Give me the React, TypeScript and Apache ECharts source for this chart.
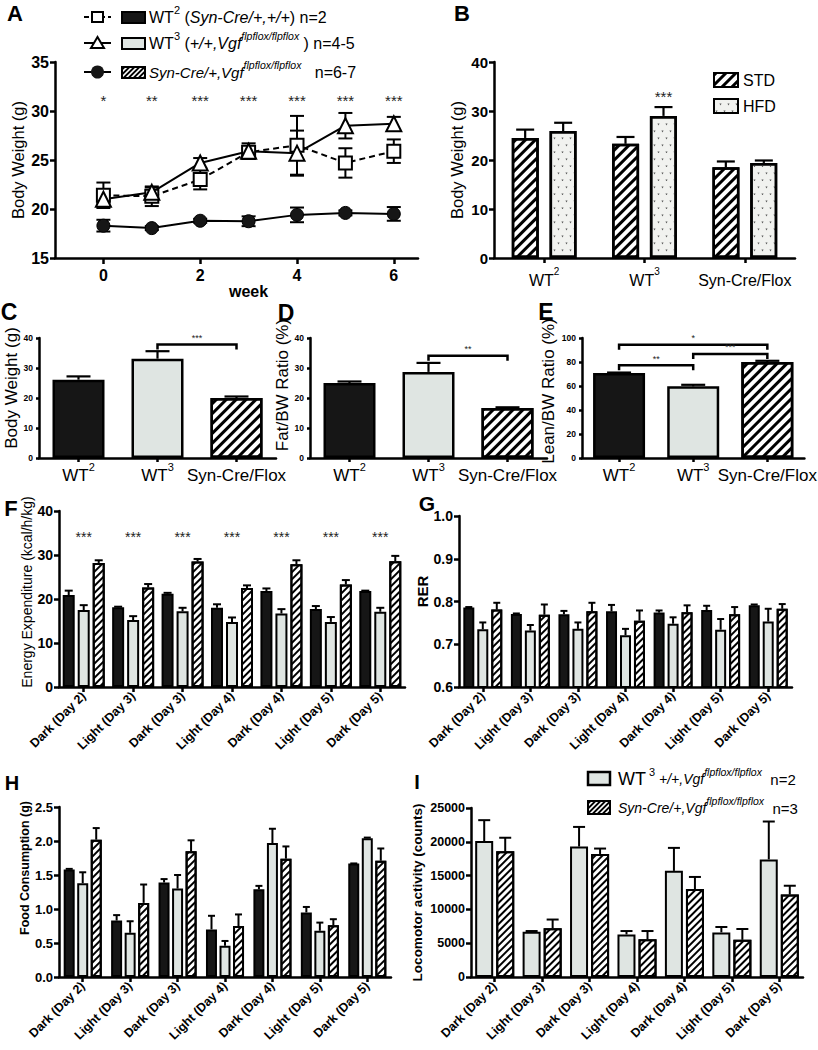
import React, { useEffect, useRef } from 'react';
import * as echarts from 'echarts';

const FONT = '"Liberation Sans", Arial, Helvetica, sans-serif';
const INK = '#000';
const DARK = '#161616';
const LIGHT = '#dfe5e2';
const HFDFILL = '#f1f2ef';

// ---------- Panel A: body weight by week ----------
const aWeeks = [0, 1, 2, 3, 4, 5, 6];
const aWeekTicks = [0, 2, 4, 6];
const aWT2 = [21.4, 21.3, 23.0, 25.8, 26.5, 24.7, 25.9];
const aWT2Err = [1.3, 1.0, 1.0, 0.4, 3.0, 1.5, 1.2];
const aWT3 = [21.0, 21.7, 24.7, 25.9, 25.7, 28.5, 28.7];
const aWT3Err = [0.4, 0.5, 0.5, 0.8, 2.3, 1.3, 0.7];
const aSyn = [18.3, 18.05, 18.8, 18.75, 19.4, 19.6, 19.5];
const aSynErr = [0.6, 0.2, 0.2, 0.5, 0.75, 0.25, 0.7];
const aStars = ['*', '**', '***', '***', '***', '***', '***'];
const aStarLevel = [31.1, 31.1, 31.1, 31.1, 31.1, 31.1, 31.1];

// ---------- Panel B: STD vs HFD ----------
const bCats = ['WT2', 'WT3', 'Syn-Cre/Flox'];
const bSTD = [24.5, 23.3, 18.5];
const bSTDErr = [1.7, 1.4, 1.2];
const bHFD = [25.9, 29.0, 19.4];
const bHFDErr = [1.7, 1.8, 0.5];
const bStarX = [1];
const bStarY = [32.9];
const bStarText = ['***'];

// ---------- Panels C, D, E ----------
const cdeCats = ['WT2', 'WT3', 'Syn-Cre/Flox'];
const cVals = [26.1, 33.1, 20.0];
const cErr = [1.1, 2.5, 0.5];
const cBrFrom = [1], cBrTo = [2], cBrY = [37.8], cBrText = ['***'];
const dVals = [25.0, 28.7, 16.7];
const dErr = [0.5, 3.0, 0.2];
const dBrFrom = [1], dBrTo = [2], dBrY = [34.1], dBrText = ['**'];
const eVals = [70.8, 59.7, 80.0];
const eErr = [0.4, 1.3, 1.0];
const eBrFrom = [0, 1, 0], eBrTo = [2, 2, 1], eBrY = [94.4, 86.7, 77.2], eBrText = ['*', '***', '**'];

// ---------- Panels F, G, H, I ----------
const periods = ['Dark (Day 2)', 'Light (Day 3)', 'Dark (Day 3)', 'Light (Day 4)', 'Dark (Day 4)', 'Light (Day 5)', 'Dark (Day 5)'];
const periodIdx = [0, 1, 2, 3, 4, 5, 6];

const fWT2 = [20.9, 18.1, 21.2, 18.0, 21.8, 17.7, 21.8];
const fWT2Err = [1.0, 0.15, 0.2, 0.8, 0.6, 0.7, 0.1];
const fWT3 = [17.5, 15.2, 17.2, 14.8, 16.7, 14.8, 17.1];
const fWT3Err = [1.1, 0.9, 0.8, 1.0, 1.0, 1.1, 0.9];
const fSyn = [28.2, 22.6, 28.5, 22.5, 27.9, 23.3, 28.6];
const fSynErr = [0.6, 0.8, 0.6, 0.6, 0.9, 1.0, 1.2];
const fStars = ['***', '***', '***', '***', '***', '***', '***'];
const fStarLevel = [34.2, 34.2, 34.2, 34.2, 34.2, 34.2, 34.2];

const gWT2 = [0.786, 0.771, 0.770, 0.777, 0.774, 0.780, 0.791];
const gWT2Err = [0.001, 0.001, 0.008, 0.015, 0.005, 0.010, 0.002];
const gWT3 = [0.735, 0.732, 0.736, 0.721, 0.748, 0.734, 0.753];
const gWT3Err = [0.016, 0.013, 0.015, 0.015, 0.015, 0.025, 0.030];
const gSyn = [0.781, 0.769, 0.777, 0.755, 0.775, 0.770, 0.783];
const gSynErr = [0.016, 0.024, 0.020, 0.024, 0.016, 0.017, 0.011];

const hWT2 = [1.58, 0.83, 1.39, 0.70, 1.29, 0.95, 1.67];
const hWT2Err = [0.01, 0.08, 0.05, 0.20, 0.05, 0.08, 0.0];
const hWT3 = [1.38, 0.65, 1.30, 0.46, 1.97, 0.68, 2.04];
const hWT3Err = [0.16, 0.17, 0.20, 0.07, 0.21, 0.12, 0.01];
const hSyn = [2.02, 1.09, 1.85, 0.75, 1.74, 0.76, 1.71];
const hSynErr = [0.17, 0.27, 0.16, 0.17, 0.18, 0.09, 0.18];

const iWT3 = [20100, 6700, 19300, 6300, 15700, 6600, 17400];
const iWT3Err = [3100, 100, 2900, 500, 3400, 800, 5600];
const iSyn = [18600, 7200, 18200, 5600, 13000, 5500, 12200];
const iSynErr = [2000, 1300, 800, 1200, 1800, 1600, 1300];

// ---------- styles ----------
const stripeThin = { symbol: 'rect', symbolSize: 1, color: '#000', dashArrayX: [1, 0], dashArrayY: [2, 2.5], rotation: -Math.PI / 4 };
const stripeWide = { symbol: 'rect', symbolSize: 1, color: '#000', dashArrayX: [1, 0], dashArrayY: [2.5, 3.5], rotation: -Math.PI / 4 };
const dotDecal = { symbol: 'triangle', symbolSize: 0.7, color: '#555', dashArrayX: [[3, 5], [0, 4, 3, 1]], dashArrayY: [3, 4], rotation: Math.PI };

const sBlack = (bw: number) => ({ color: DARK, borderColor: INK, borderWidth: bw });
const sLight = (bw: number) => ({ color: LIGHT, borderColor: INK, borderWidth: bw });
const sHatch = (bw: number, decal: any) => ({ color: '#fff', borderColor: INK, borderWidth: bw, decal });

const axisLine = (w = 2.5) => ({ show: true, onZero: false, lineStyle: { color: INK, width: w } });
const axisTick = (len = 5, w = 2.5, extra: any = {}) => ({ show: true, length: len, lineStyle: { color: INK, width: w }, ...extra });

const supFmt = (v: string) => {
  const m = /^WT(\d)$/.exec(v);
  return m ? `{a|WT}{s|${m[1]}}` : `{a|${v}}`;
};
const supRich = (fs: number) => ({
  a: { fontSize: fs, color: INK, fontFamily: FONT, lineHeight: 28, verticalAlign: 'middle' },
  s: { fontSize: Math.round(fs * 0.65), color: INK, fontFamily: FONT, lineHeight: 12, verticalAlign: 'top' },
});

function valueY(gi: number, min: number, max: number, interval: number, fontSize: number, name: string, nameStyle: any, nameGap: number, fmt?: any, tickLen = 5, lw = 2.5) {
  return {
    gridIndex: gi, type: 'value', min, max, interval,
    axisLine: axisLine(lw), axisTick: axisTick(tickLen, lw), splitLine: { show: false },
    axisLabel: { fontSize, fontWeight: 'bold', color: INK, margin: 6, fontFamily: FONT, formatter: fmt },
    name, nameLocation: 'middle', nameGap, nameRotate: 90,
    nameTextStyle: { color: INK, fontFamily: FONT, ...nameStyle },
  };
}

function catX(gi: number, data: string[], label: any, tickLen = 5) {
  return {
    gridIndex: gi, type: 'category', data, boundaryGap: true,
    axisLine: axisLine(), axisTick: axisTick(tickLen, 2.5, { alignWithLabel: true }),
    axisLabel: { interval: 0, color: INK, fontFamily: FONT, ...label }, splitLine: { show: false },
  };
}

function bar(gi: number, name: string, data: any[], barWidth: number, barGap: string, itemStyle: any) {
  return { type: 'bar', name, xAxisIndex: gi, yAxisIndex: gi, data, barWidth, barGap, itemStyle, silent: true, z: 2 };
}

function errSeries(gi: number, vals: number[], errs: number[], offset: number, capW: number, lw: number, both: boolean, xs?: number[], z = 4) {
  return {
    type: 'custom', xAxisIndex: gi, yAxisIndex: gi, silent: true, z,
    encode: { x: 0, y: 1 },
    data: vals.map((v, i) => [xs ? xs[i] : i, v, errs[i]]),
    renderItem: (_p: any, api: any) => {
      const x = api.value(0), v = api.value(1), e = api.value(2);
      const c = api.coord([x, v]);
      const t = api.coord([x, v + e]);
      const cx = c[0] + offset;
      const st = { stroke: INK, lineWidth: lw };
      const ch: any[] = [
        { type: 'line', shape: { x1: cx, y1: c[1], x2: cx, y2: t[1] }, style: st },
        { type: 'line', shape: { x1: cx - capW / 2, y1: t[1], x2: cx + capW / 2, y2: t[1] }, style: st },
      ];
      if (both) {
        const b = api.coord([x, v - e]);
        ch.push({ type: 'line', shape: { x1: cx, y1: c[1], x2: cx, y2: b[1] }, style: st });
        ch.push({ type: 'line', shape: { x1: cx - capW / 2, y1: b[1], x2: cx + capW / 2, y2: b[1] }, style: st });
      }
      return { type: 'group', children: ch };
    },
  };
}

function textSeries(gi: number, xs: number[], ys: number[], texts: string[], fontSize: number, dx = 0) {
  return {
    type: 'custom', xAxisIndex: gi, yAxisIndex: gi, silent: true, z: 5,
    encode: { x: 0, y: 1 },
    data: xs.map((x, i) => [x, ys[i]]),
    renderItem: (p: any, api: any) => {
      const c = api.coord([api.value(0), api.value(1)]);
      return {
        type: 'text', x: c[0] + dx, y: c[1],
        style: { text: texts[p.dataIndex], fontSize, fontFamily: FONT, fill: '#222', align: 'center', verticalAlign: 'middle', textAlign: 'center', textVerticalAlign: 'middle' },
      };
    },
  };
}

function bracketSeries(gi: number, from: number[], to: number[], ys: number[], texts: string[]) {
  return {
    type: 'custom', xAxisIndex: gi, yAxisIndex: gi, silent: true, z: 5,
    encode: { x: [0, 1], y: 2 },
    data: from.map((f, i) => [f, to[i], ys[i]]),
    renderItem: (p: any, api: any) => {
      const a = api.coord([api.value(0), api.value(2)]);
      const b = api.coord([api.value(1), api.value(2)]);
      return {
        type: 'group',
        children: [
          { type: 'polyline', shape: { points: [[a[0], a[1] + 5], [a[0], a[1]], [b[0], b[1]], [b[0], b[1] + 5]] }, style: { stroke: INK, lineWidth: 2.5, fill: null } },
          { type: 'text', x: (a[0] + b[0]) / 2, y: a[1] - 2, style: { text: texts[p.dataIndex], fontSize: 9, fontFamily: FONT, fill: '#222', align: 'center', verticalAlign: 'bottom', textAlign: 'center', textVerticalAlign: 'bottom' } },
        ],
      };
    },
  };
}

function hatchBox(x: number, y: number, w: number, h: number, step: number) {
  const out: any[] = [{ type: 'rect', shape: { x, y, width: w, height: h }, style: { fill: '#fff', stroke: INK, lineWidth: 2 } }];
  for (let k = -h + step / 2; k < w; k += step) {
    let x1 = x + k, y1 = y + h, x2 = x + k + h, y2 = y;
    if (x1 < x) { y1 -= x - x1; x1 = x; }
    if (x2 > x + w) { y2 += x2 - (x + w); x2 = x + w; }
    out.push({ type: 'line', shape: { x1, y1, x2, y2 }, style: { stroke: INK, lineWidth: 1.8 } });
  }
  return out;
}

function letter(t: string, x: number, y: number, fs: number) {
  return { type: 'text', x, y, style: { text: t, fontSize: fs, fontWeight: 'bold', fontFamily: FONT, fill: INK, align: 'center', verticalAlign: 'middle', textAlign: 'center', textVerticalAlign: 'middle' } };
}

function richText(x: number, y: number, text: string, rich: any) {
  return { type: 'text', x, y, style: { text, rich, fontFamily: FONT, fill: INK, align: 'left', verticalAlign: 'middle', textAlign: 'left', textVerticalAlign: 'middle' } };
}

function buildOption() {
  const grid = [
    { left: 55, top: 62, width: 363, height: 196 },   // A
    { left: 494, top: 62, width: 301, height: 196 },  // B
    { left: 39, top: 338, width: 237, height: 120 },  // C
    { left: 310, top: 338, width: 237, height: 120 }, // D
    { left: 582, top: 338, width: 234, height: 120 }, // E
    { left: 59, top: 511, width: 346, height: 176 },  // F
    { left: 459, top: 516, width: 333, height: 171 }, // G
    { left: 59, top: 807, width: 332, height: 170 },  // H
    { left: 471, top: 808, width: 332, height: 169 }, // I
  ];

  const rotLabel = { rotate: 45, fontSize: 12.5, fontWeight: 'bold', margin: 7 };

  const xAxis: any[] = [
    {
      gridIndex: 0, type: 'value', min: -1, max: 6.5,
      axisLine: axisLine(2.5), axisTick: axisTick(6, 2.5, { customValues: aWeekTicks }), splitLine: { show: false },
      axisLabel: { customValues: aWeekTicks, fontSize: 16, fontWeight: 'bold', color: INK, margin: 9, fontFamily: FONT },
      name: 'week', nameLocation: 'middle', nameGap: 23,
      nameTextStyle: { fontSize: 16, fontWeight: 'bold', color: INK, fontFamily: FONT, padding: [0, 0, 0, 24] },
    },
    catX(1, bCats, { formatter: supFmt, rich: supRich(16), margin: 8 }),
    catX(2, cdeCats, { formatter: supFmt, rich: supRich(17), margin: 3 }, 4),
    catX(3, cdeCats, { formatter: supFmt, rich: supRich(17), margin: 3 }, 4),
    catX(4, cdeCats, { formatter: supFmt, rich: supRich(17), margin: 3 }, 4),
    catX(5, periods, rotLabel),
    catX(6, periods, rotLabel),
    catX(7, periods, rotLabel),
    catX(8, periods, rotLabel),
  ];

  const yAxis: any[] = [
    valueY(0, 15, 35, 5, 16, 'Body Weight (g)', { fontSize: 16.5 }, 29),
    valueY(1, 0, 40, 10, 15, 'Body Weight (g)', { fontSize: 16.5 }, 29),
    valueY(2, 0, 40, 10, 8.5, 'Body Weight (g)', { fontSize: 17, padding: [0, 0, 0, 20] }, 17, undefined, 3),
    valueY(3, 0, 40, 10, 8.5, 'Fat/BW Ratio (%)', { fontSize: 17, padding: [0, 0, 0, 26] }, 12, undefined, 3),
    valueY(4, 0, 100, 20, 8.5, 'Lean/BW Ratio (%)', { fontSize: 17, padding: [0, 0, 0, 14] }, 25, undefined, 3),
    valueY(5, 0, 40, 10, 14, 'Energy Expenditure (kcal/h/kg)', { fontSize: 14, padding: [0, 0, 0, 14] }, 20),
    valueY(6, 0.6, 1.0, 0.1, 14, 'RER', { fontSize: 15, fontWeight: 'bold', padding: [0, 0, 0, 20] }, 23, (v: number) => v.toFixed(1)),
    valueY(7, 0, 2.5, 0.5, 13, 'Food Consumption (g)', { fontSize: 12.5, fontWeight: 'bold', padding: [0, 0, 0, 48] }, 28, (v: number) => v.toFixed(1)),
    valueY(8, 0, 25000, 5000, 12.5, 'Locomotor activity (counts)', { fontSize: 13.5, fontWeight: 'bold' }, 47, (v: number) => String(v)),
  ];

  const lineCommon = { silent: true, xAxisIndex: 0, yAxisIndex: 0, z: 6, showSymbol: true };
  const series: any[] = [
    // A
    errSeries(0, aWT2, aWT2Err, 0, 14, 2, true, aWeeks, 3),
    errSeries(0, aWT3, aWT3Err, 0, 14, 2, true, aWeeks, 3),
    errSeries(0, aSyn, aSynErr, 0, 14, 2, true, aWeeks, 3),
    { ...lineCommon, type: 'line', name: 'A WT2', data: aWeeks.map((w, i) => [w, aWT2[i]]), symbol: 'rect', symbolSize: 13, lineStyle: { color: INK, width: 2, type: [6, 4] }, itemStyle: { color: '#fff', borderColor: INK, borderWidth: 2 } },
    { ...lineCommon, type: 'line', name: 'A WT3', data: aWeeks.map((w, i) => [w, aWT3[i]]), symbol: 'triangle', symbolSize: 15, lineStyle: { color: INK, width: 2 }, itemStyle: { color: '#fff', borderColor: INK, borderWidth: 2 } },
    { ...lineCommon, type: 'line', name: 'A Syn', data: aWeeks.map((w, i) => [w, aSyn[i]]), symbol: 'circle', symbolSize: 13, lineStyle: { color: INK, width: 2 }, itemStyle: { color: DARK, borderColor: INK, borderWidth: 1 } },
    textSeries(0, aWeeks, aStarLevel, aStars, 15),

    // B
    bar(1, 'STD', bSTD, 27, '40%', sHatch(2.5, stripeWide)),
    bar(1, 'HFD', bHFD, 27, '40%', { color: HFDFILL, borderColor: INK, borderWidth: 2.5, decal: dotDecal }),
    errSeries(1, bSTD, bSTDErr, -19, 18, 2.2, false),
    errSeries(1, bHFD, bHFDErr, 19, 18, 2.2, false),
    textSeries(1, bStarX, bStarY, bStarText, 15, 19),

    // C
    bar(2, 'C', cVals.map((v, i) => ({ value: v, itemStyle: [sBlack(2.5), sLight(2.5), sHatch(2.5, stripeWide)][i] })), 52, '0%', {}),
    errSeries(2, cVals, cErr, 0, 24, 2.2, false),
    bracketSeries(2, cBrFrom, cBrTo, cBrY, cBrText),
    // D
    bar(3, 'D', dVals.map((v, i) => ({ value: v, itemStyle: [sBlack(2.5), sLight(2.5), sHatch(2.5, stripeWide)][i] })), 52, '0%', {}),
    errSeries(3, dVals, dErr, 0, 24, 2.2, false),
    bracketSeries(3, dBrFrom, dBrTo, dBrY, dBrText),
    // E
    bar(4, 'E', eVals.map((v, i) => ({ value: v, itemStyle: [sBlack(2.5), sLight(2.5), sHatch(2.5, stripeWide)][i] })), 52, '0%', {}),
    errSeries(4, eVals, eErr, 0, 24, 2.2, false),
    bracketSeries(4, eBrFrom, eBrTo, eBrY, eBrText),

    // F
    bar(5, 'F WT2', fWT2, 12, '25%', sBlack(2)),
    bar(5, 'F WT3', fWT3, 12, '25%', sLight(2)),
    bar(5, 'F Syn', fSyn, 12, '25%', sHatch(2, stripeThin)),
    errSeries(5, fWT2, fWT2Err, -15, 8, 2, false),
    errSeries(5, fWT3, fWT3Err, 0, 8, 2, false),
    errSeries(5, fSyn, fSynErr, 15, 8, 2, false),
    textSeries(5, periodIdx, fStarLevel, fStars, 14),

    // G
    bar(6, 'G WT2', gWT2, 11, '27%', sBlack(2)),
    bar(6, 'G WT3', gWT3, 11, '27%', sLight(2)),
    bar(6, 'G Syn', gSyn, 11, '27%', sHatch(2, stripeThin)),
    errSeries(6, gWT2, gWT2Err, -14, 7, 2, false),
    errSeries(6, gWT3, gWT3Err, 0, 7, 2, false),
    errSeries(6, gSyn, gSynErr, 14, 7, 2, false),

    // H
    bar(7, 'H WT2', hWT2, 11, '23%', sBlack(2)),
    bar(7, 'H WT3', hWT3, 11, '23%', sLight(2)),
    bar(7, 'H Syn', hSyn, 11, '23%', sHatch(2, stripeThin)),
    errSeries(7, hWT2, hWT2Err, -13.5, 7, 2, false),
    errSeries(7, hWT3, hWT3Err, 0, 7, 2, false),
    errSeries(7, hSyn, hSynErr, 13.5, 7, 2, false),

    // I
    bar(8, 'I WT3', iWT3, 18, '17%', sLight(2)),
    bar(8, 'I Syn', iSyn, 18, '17%', sHatch(2, stripeThin)),
    errSeries(8, iWT3, iWT3Err, -10.5, 12, 2, false),
    errSeries(8, iSyn, iSynErr, 10.5, 12, 2, false),
  ];

  const richA = {
    t: { fontSize: 16, fill: INK, fontFamily: FONT, lineHeight: 26, verticalAlign: 'middle' },
    i: { fontSize: 16, fill: INK, fontFamily: FONT, fontStyle: 'italic', lineHeight: 26, verticalAlign: 'middle' },
    i3: { fontSize: 15, fill: INK, fontFamily: FONT, fontStyle: 'italic', lineHeight: 26, verticalAlign: 'middle' },
    s: { fontSize: 11, fill: INK, fontFamily: FONT, lineHeight: 11, verticalAlign: 'top' },
    s2: { fontSize: 10.5, fill: INK, fontFamily: FONT, fontStyle: 'italic', lineHeight: 11, verticalAlign: 'top' },
  };
  const richI = {
    t: { fontSize: 18, fill: INK, fontFamily: FONT, lineHeight: 26, verticalAlign: 'middle' },
    i: { fontSize: 14, fill: INK, fontFamily: FONT, fontStyle: 'italic', lineHeight: 26, verticalAlign: 'middle' },
    n: { fontSize: 15, fill: INK, fontFamily: FONT, lineHeight: 26, verticalAlign: 'middle' },
    s: { fontSize: 11, fill: INK, fontFamily: FONT, lineHeight: 11, verticalAlign: 'top' },
    s2: { fontSize: 10.5, fill: INK, fontFamily: FONT, fontStyle: 'italic', lineHeight: 11, verticalAlign: 'top' },
  };

  const graphic: any[] = [
    letter('A', 15, 13, 22), letter('B', 462, 13, 22), letter('C', 9, 312, 23), letter('D', 286, 313, 23), letter('E', 546, 312, 23),
    letter('F', 11, 508, 22), letter('G', 427, 503, 21), letter('H', 12, 783, 20), letter('I', 417, 782, 20),
    // legend A
    { type: 'line', shape: { x1: 84, y1: 17, x2: 111, y2: 17 }, style: { stroke: INK, lineWidth: 2, lineDash: [5, 3] } },
    { type: 'rect', shape: { x: 92, y: 12, width: 11, height: 10 }, style: { fill: '#fff', stroke: INK, lineWidth: 2 } },
    { type: 'line', shape: { x1: 84, y1: 43, x2: 111, y2: 43 }, style: { stroke: INK, lineWidth: 2 } },
    { type: 'polygon', shape: { points: [[97.5, 37], [91, 48], [104, 48]] }, style: { fill: '#fff', stroke: INK, lineWidth: 2 } },
    { type: 'line', shape: { x1: 84, y1: 72, x2: 111, y2: 72 }, style: { stroke: INK, lineWidth: 2 } },
    { type: 'circle', shape: { cx: 97.5, cy: 72, r: 6.5 }, style: { fill: DARK } },
    { type: 'rect', shape: { x: 122, y: 12, width: 23, height: 11 }, style: { fill: DARK, stroke: INK, lineWidth: 2 } },
    { type: 'rect', shape: { x: 122, y: 38, width: 23, height: 11 }, style: { fill: LIGHT, stroke: INK, lineWidth: 2 } },
    ...hatchBox(122, 67, 23, 11, 5),
    richText(149, 17, '{t|WT}{s|2}{t| (}{i|Syn-Cre/+,+/+}{t|) n=2}', richA),
    richText(149, 43, '{t|WT}{s|3}{t| (}{i|+/+,Vgf}{s2|flpflox/flpflox}{t| ) n=4-5}', richA),
    richText(149, 72, '{i3|Syn-Cre/+,Vgf}{s2|flpflox/flpflox}{t|   n=6-7}', richA),
    // legend I
    { type: 'rect', shape: { x: 588, y: 772, width: 22, height: 13 }, style: { fill: LIGHT, stroke: INK, lineWidth: 2.5 } },
    ...hatchBox(588, 801, 22, 13, 5),
    richText(618, 779, '{t|WT}{s| 3}{i| +/+,Vgf}{s2|flpflox/flpflox}{n|  n=2}', richI),
    richText(618, 808, '{i|Syn-Cre/+,Vgf}{s2|flpflox/flpflox}{n|  n=3}', richI),
  ];

  return {
    animation: false,
    backgroundColor: '#fff',
    textStyle: { fontFamily: FONT },
    grid,
    xAxis,
    yAxis,
    series,
    legend: [{
      data: ['STD', 'HFD'], orient: 'vertical', left: 708, top: 67, itemWidth: 24, itemHeight: 14, itemGap: 10,
      icon: 'rect', selectedMode: false, textStyle: { fontSize: 16, color: INK, fontFamily: FONT },
    }],
    graphic: { elements: graphic },
  };
}

export default function App() {
  const ref = useRef<HTMLDivElement>(null);
  useEffect(() => {
    const chart = echarts.init(ref.current!, null, { renderer: 'svg' });
    chart.setOption(buildOption() as any);
    return () => chart.dispose();
  }, []);
  return <div ref={ref} style={{ position: 'absolute', left: 0, top: 0, width: 818, height: 1050, background: '#fff' }} />;
}
